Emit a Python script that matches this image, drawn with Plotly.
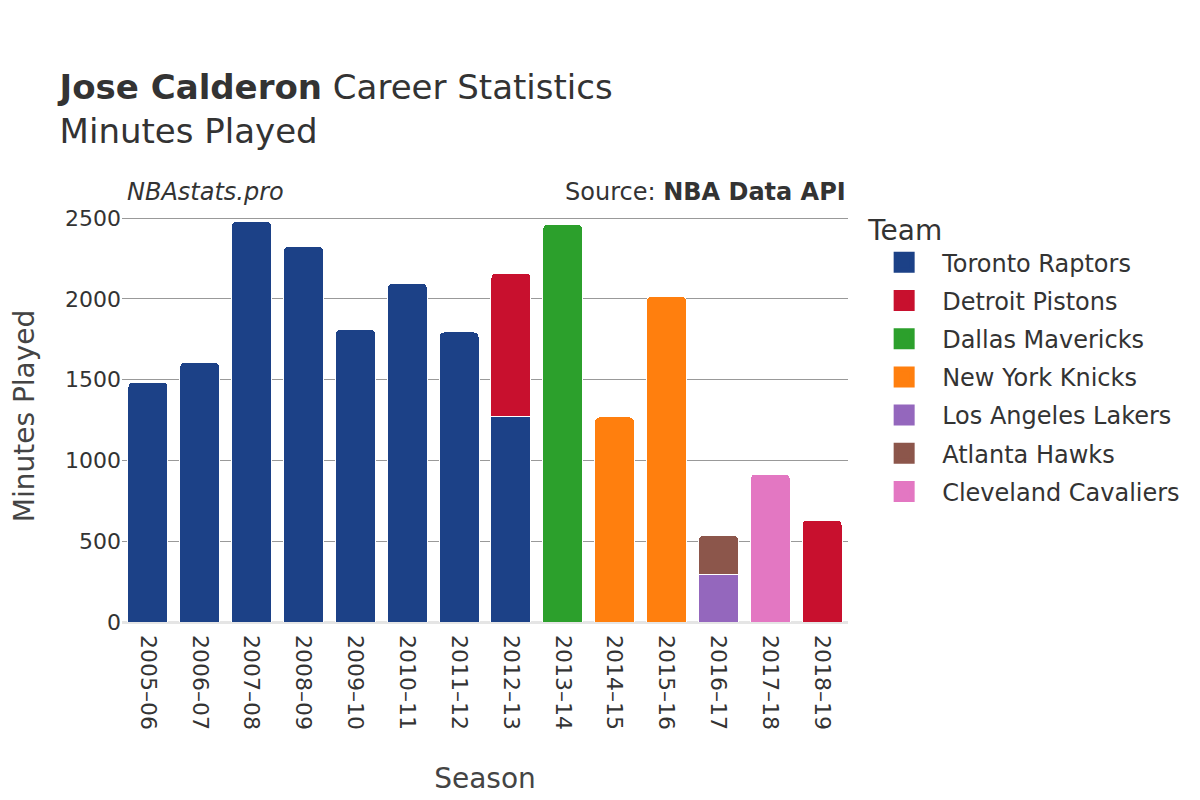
import plotly.graph_objects as go

seasons = ["2005–06", "2006–07", "2007–08", "2008–09", "2009–10", "2010–11", "2011–12",
           "2012–13", "2013–14", "2014–15", "2015–16", "2016–17", "2017–18", "2018–19"]

toronto = [1485, 1609, 2481, 2327, 1813, 2098, 1795, 1275, None, None, None, None, None, None]
detroit = [None, None, None, None, None, None, None, 885, None, None, None, None, None, 631]
dallas = [None, None, None, None, None, None, None, None, 2463, None, None, None, None, None]
knicks = [None, None, None, None, None, None, None, None, None, 1269, 2017, None, None, None]
lakers = [None, None, None, None, None, None, None, None, None, None, None, 291, None, None]
hawks = [None, None, None, None, None, None, None, None, None, None, None, 247, None, None]
cavs = [None, None, None, None, None, None, None, None, None, None, None, None, 916, None]

teams = [
    ("Toronto Raptors", toronto, "#1C4187"),
    ("Detroit Pistons", detroit, "#C8102E"),
    ("Dallas Mavericks", dallas, "#2CA02C"),
    ("New York Knicks", knicks, "#FF7F0E"),
    ("Los Angeles Lakers", lakers, "#9467BD"),
    ("Atlanta Hawks", hawks, "#8C564B"),
    ("Cleveland Cavaliers", cavs, "#E377C2"),
]

fig = go.Figure()
for name, vals, color in teams:
    fig.add_trace(go.Bar(
        x=seasons, y=vals, name=name, legendgroup=name, showlegend=False,
        marker=dict(color=color, line=dict(color="white", width=1)),
    ))
# legend entries (larger swatches than the default bar icon)
for name, vals, color in teams:
    fig.add_trace(go.Scatter(
        x=[None], y=[None], name=name, legendgroup=name, mode="markers",
        marker=dict(symbol="square", size=16, color=color, line=dict(color=color, width=5)),
        hoverinfo="skip",
    ))

font = "DejaVu Sans"
fig.update_layout(
    width=1200, height=800,
    barmode="stack",
    barcornerradius=5,
    bargap=0.229,
    plot_bgcolor="white", paper_bgcolor="white",
    font=dict(family=font, color="#333", size=22),
    margin=dict(l=114, r=360, t=202, b=186),
    title=dict(
        text="<b>Jose Calderon</b> Career Statistics<br>Minutes Played",
        x=0.043, xanchor="left", xref="container",
        y=0.886, yanchor="top", yref="container",
        font=dict(family=font, size=34, color="#333"),
    ),
    xaxis=dict(
        title=dict(text="Season", font=dict(size=28, color="#444"), standoff=39),
        tickangle=90, tickfont=dict(size=22, color="#333"),
        ticklabelstandoff=12,
        showgrid=False, ticks="", automargin=False,
    ),
    yaxis=dict(
        title=dict(text="Minutes Played", font=dict(size=28, color="#444"), standoff=47),
        range=[0, 2550], tickvals=[0, 500, 1000, 1500, 2000, 2500],
        tickfont=dict(size=22, color="#333"),
        showgrid=True, gridcolor="#999", gridwidth=1,
        zeroline=True, zerolinecolor="#e5e5e5", zerolinewidth=3,
        ticks="", automargin=False,
    ),
    legend=dict(
        title=dict(text="Team", font=dict(size=28, color="#333")),
        x=1.025, xanchor="left", y=1.015, yanchor="top",
        font=dict(size=24, color="#333"),
        traceorder="grouped",
        itemsizing="trace",
        itemwidth=66,
        tracegroupgap=4,
    ),
    annotations=[
        dict(text="<i>NBAstats.pro</i>", x=0.004, xref="paper", y=1.0, yref="paper",
             xanchor="left", yanchor="bottom", showarrow=False, yshift=2,
             font=dict(size=24, color="#333")),
        dict(text="Source: <b>NBA Data API</b>", x=1.0, xref="paper", y=1.0, yref="paper",
             xanchor="right", yanchor="bottom", showarrow=False, yshift=2,
             font=dict(size=24, color="#333")),
    ],
)

fig.write_html("out.html")
